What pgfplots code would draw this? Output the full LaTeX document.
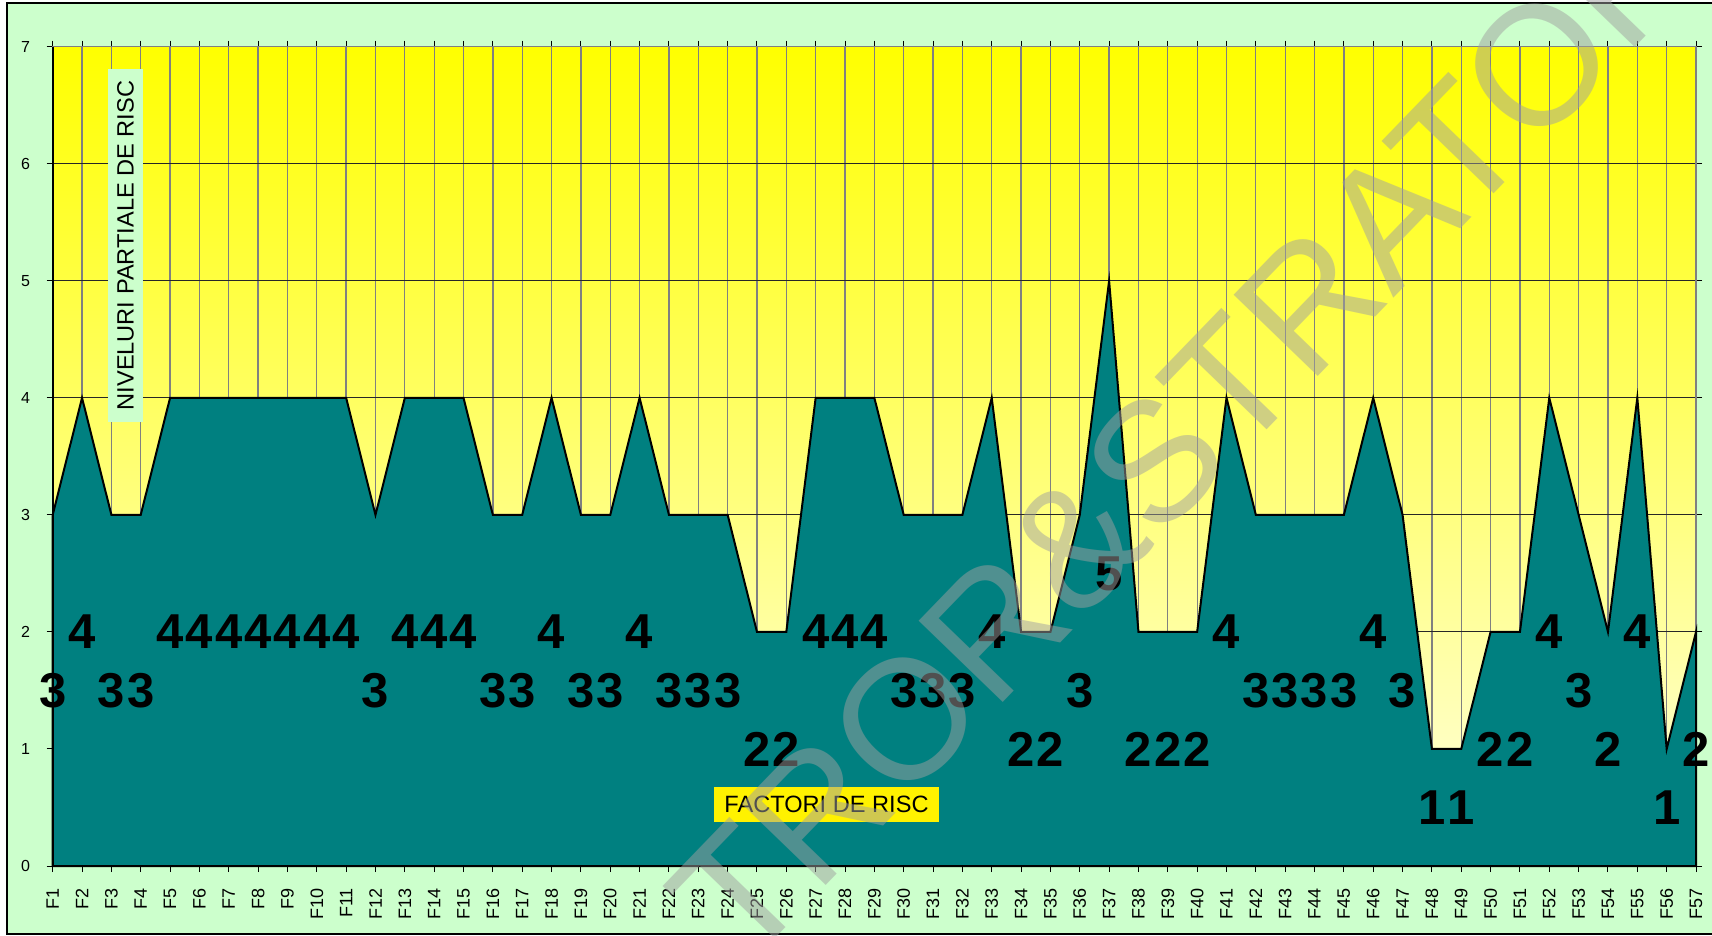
\documentclass[border=0pt]{standalone}
\usepackage{pgfplots}
\pgfplotsset{compat=1.18}
\usepackage{pgfplotstable}
\usepackage{fontspec}
\setmainfont{Liberation Sans}
\definecolor{bggreen}{RGB}{204,255,204}
\definecolor{areateal}{RGB}{0,128,128}
\definecolor{gridgray}{RGB}{128,128,128}
\definecolor{cream}{RGB}{255,255,225}
\definecolor{wm}{RGB}{160,160,160}

\pgfplotstableread{
x y
1 3
2 4
3 3
4 3
5 4
6 4
7 4
8 4
9 4
10 4
11 4
12 3
13 4
14 4
15 4
16 3
17 3
18 4
19 3
20 3
21 4
22 3
23 3
24 3
25 2
26 2
27 4
28 4
29 4
30 3
31 3
32 3
33 4
34 2
35 2
36 3
37 5
38 2
39 2
40 2
41 4
42 3
43 3
44 3
45 3
46 4
47 3
48 1
49 1
50 2
51 2
52 4
53 3
54 2
55 4
56 1
57 2
}\risk

\begin{document}
\begin{tikzpicture}
\begin{scope}[x=0.5bp,y=0.5bp]
\fill[white] (0,0) rectangle (1712,936);
\fill[bggreen] (7,2) rectangle (1716,933.3);
\draw[black, line width=1bp] (1716,933.3) -- (7,933.3) -- (7,2) -- (1716,2);
\end{scope}
\begin{axis}[
  at={(26.35bp,35bp)}, anchor=south west,
  width=821.65bp, height=409.65bp, scale only axis,
  xmin=1, xmax=57, ymin=0, ymax=7,
  xtick={1,...,57},
  xticklabels={F1,F2,F3,F4,F5,F6,F7,F8,F9,F10,F11,F12,F13,F14,F15,F16,F17,F18,F19,F20,F21,F22,F23,F24,F25,F26,F27,F28,F29,F30,F31,F32,F33,F34,F35,F36,F37,F38,F39,F40,F41,F42,F43,F44,F45,F46,F47,F48,F49,F50,F51,F52,F53,F54,F55,F56,F57},
  ytick={0,...,7},
  /pgf/number format/assume math mode=true,
  x tick label style={font=\fontsize{9bp}{10bp}\selectfont, yshift=-4.5bp, rotate=90, anchor=east},
  y tick label style={font=\fontsize{8bp}{9bp}\selectfont, xshift=-4.8bp},
  tick align=outside, major tick length=3bp,
  tick style={black, line width=0.5bp},
  xmajorgrids, ymajorgrids,
  x grid style={gridgray, line width=0.65bp},
  y grid style={black!85, line width=0.5bp},
  axis line style={gridgray, line width=0.75bp},
  axis background/.style={top color=yellow, bottom color=cream},
  clip=false,
]
\addplot[fill=areateal, draw=black, line width=1bp] table[x=x, y=y] {\risk} \closedcycle;
\addplot[draw=none, mark=none, nodes near coords, point meta=explicit,
  every node near coord/.append style={anchor=center, font=\fontsize{24.5bp}{28bp}\selectfont\bfseries, text=black, inner sep=0pt}]
  table[x=x, y expr=\thisrow{y}/2, meta=y] {\risk};
\draw[black, line width=1bp] (rel axis cs:0,1) -- (rel axis cs:0,0) -- (rel axis cs:1,0);
\end{axis}
\begin{scope}[x=0.5bp,y=0.5bp]
\node[rotate=90, fill=bggreen, inner sep=0pt, minimum width=176.5bp, minimum height=17.5bp, font=\fontsize{11.8bp}{13bp}\selectfont] at (125.5,690.5) {NIVELURI PARTIALE DE RISC};
\node[fill=yellow, inner sep=0pt, minimum width=112.5bp, minimum height=17.5bp, font=\fontsize{11.8bp}{13bp}\selectfont] at (826.5,131.5) {FACTORI DE RISC};
\node[rotate=46, anchor=base west, inner sep=0pt, text=wm, text opacity=0.5, font=\fontsize{85bp}{88bp}\selectfont] at (744,-35) {TROR\&STRATOR};
\end{scope}
\pgfresetboundingbox
\path[use as bounding box] (0,0) rectangle (856bp,468bp);
\end{tikzpicture}
\end{document}
